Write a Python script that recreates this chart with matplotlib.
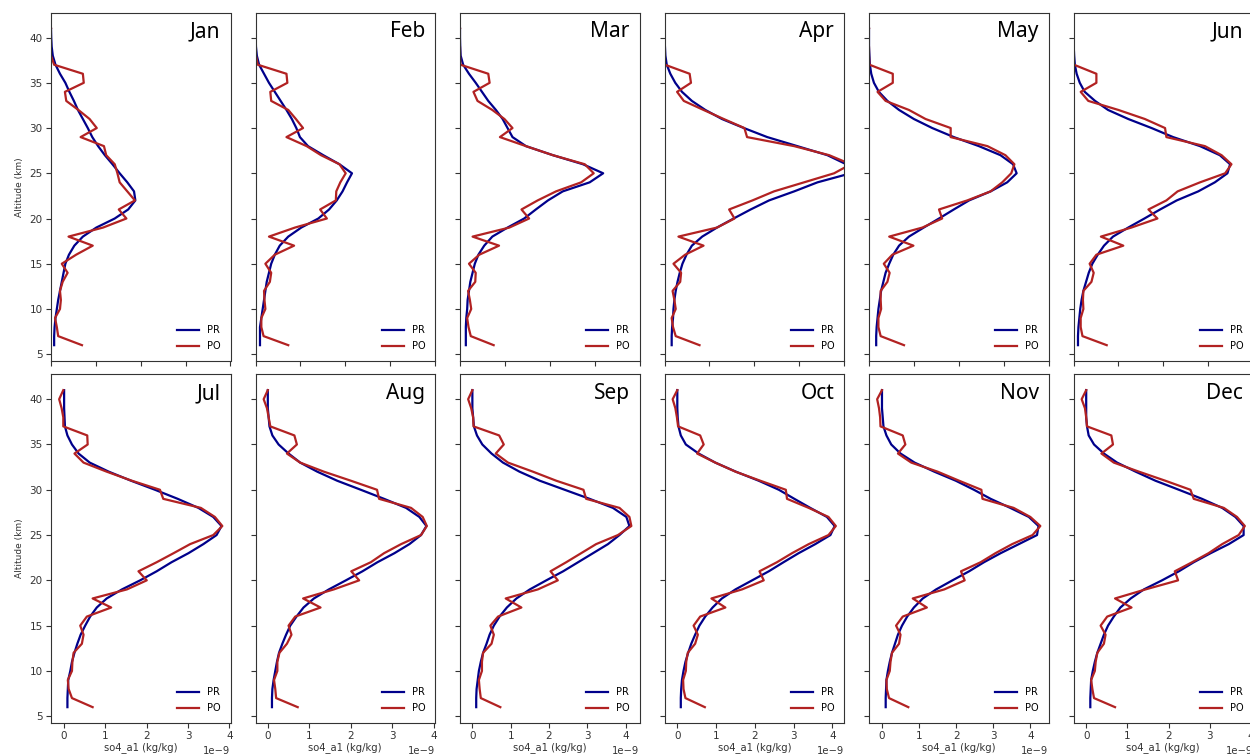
import numpy as np
import matplotlib
matplotlib.use("Agg")
import matplotlib.pyplot as plt

months = ["Jan", "Feb", "Mar", "Apr", "May", "Jun",
          "Jul", "Aug", "Sep", "Oct", "Nov", "Dec"]

altitude_km = [6, 7, 8, 9, 10, 11, 12, 13, 14, 15, 16, 17, 18, 19, 20, 21, 22, 23,
               24, 25, 26, 27, 28, 29, 30, 31, 32, 33, 34, 35, 36, 37, 38, 39, 40, 41]

# values in units of 1e-9 kg/kg
pr_jan = [0.07,0.07,0.08,0.10,0.13,0.16,0.20,0.24,0.28,0.32, 0.40,0.52,0.71,1.01,1.42,1.72,1.88,1.85,1.70,1.53,
          1.37,1.20,1.05,0.92,0.82,0.71,0.60,0.51,0.41,0.32, 0.20,0.10,0.04,0.015,0.005,0.0]
po_jan = [0.69,0.16,0.13,0.09,0.20,0.22,0.20,0.26,0.37,0.24, 0.56,0.93,0.39,1.16,1.68,1.51,1.87,1.70,1.53,1.48,
          1.42,1.23,1.18,0.66,1.02,0.86,0.61,0.34,0.31,0.73, 0.71,0.07,0.0,-0.05,-0.1,0.0]

pr_feb = [0.10,0.10,0.10,0.13,0.16,0.19,0.22,0.25,0.30,0.35, 0.43,0.54,0.73,1.02,1.40,1.64,1.81,1.94,2.04,2.15,
          1.87,1.51,1.17,0.99,0.91,0.81,0.69,0.56,0.43,0.30, 0.19,0.08,0.03,0.01,0.005,0.0]
po_feb = [0.73,0.18,0.13,0.13,0.22,0.20,0.19,0.32,0.35,0.22, 0.43,0.86,0.30,0.88,1.59,1.44,1.79,1.80,1.89,2.01,
          1.87,1.46,1.14,0.69,1.06,0.90,0.73,0.35,0.33,0.71, 0.69,0.05,0.01,-0.02,-0.1,0.0]

pr_mar = [0.13,0.13,0.13,0.14,0.16,0.17,0.20,0.23,0.28,0.33, 0.41,0.54,0.72,1.06,1.43,1.69,1.96,2.29,2.89,3.19,
          2.74,2.07,1.47,1.17,1.06,0.95,0.80,0.63,0.49,0.35, 0.20,0.07,0.015,0.005,0.0,0.0]
po_mar = [0.75,0.24,0.19,0.16,0.25,0.22,0.18,0.34,0.35,0.20, 0.43,0.87,0.28,1.10,1.54,1.37,1.73,2.14,2.70,2.98,
          2.78,2.07,1.47,0.89,1.17,0.99,0.72,0.39,0.30,0.66, 0.63,0.01,0.0,0.0,-0.1,0.0]

pr_apr = [0.16,0.16,0.17,0.19,0.20,0.22,0.25,0.29,0.34,0.40, 0.49,0.61,0.84,1.17,1.54,1.92,2.33,2.89,3.41,4.15,
          4.05,3.63,2.96,2.29,1.77,1.28,0.91,0.61,0.39,0.24, 0.13,0.05,0.02,0.01,0.0,0.0]
po_apr = [0.78,0.25,0.19,0.16,0.25,0.22,0.18,0.35,0.37,0.20, 0.46,0.87,0.31,1.17,1.56,1.44,1.96,2.44,3.11,3.78,
          4.15,3.67,2.89,1.84,1.78,1.32,0.87,0.43,0.28,0.59, 0.56,0.01,0.0,0.0,-0.1,0.0]

pr_may = [0.16,0.16,0.17,0.19,0.21,0.24,0.27,0.32,0.37,0.45, 0.54,0.67,0.89,1.22,1.56,1.89,2.23,2.71,3.08,3.29,
          3.21,2.93,2.45,1.89,1.41,1.00,0.67,0.41,0.22,0.11, 0.05,0.02,0.01,0.0,0.0,0.0]
po_may = [0.78,0.26,0.21,0.21,0.27,0.26,0.26,0.41,0.46,0.33, 0.52,0.99,0.45,1.19,1.63,1.56,2.19,2.71,2.97,3.17,
          3.24,3.04,2.64,1.82,1.82,1.26,0.89,0.37,0.19,0.53, 0.53,0.01,0.0,0.0,-0.1,0.0]

pr_jun = [0.10,0.10,0.11,0.13,0.15,0.18,0.22,0.28,0.34,0.42, 0.54,0.68,0.88,1.22,1.58,1.93,2.30,2.78,3.15,3.43,
          3.49,3.26,2.82,2.22,1.74,1.22,0.77,0.48,0.25,0.14, 0.07,0.03,0.015,0.005,0.0,0.0]
po_jun = [0.74,0.20,0.16,0.16,0.22,0.21,0.22,0.40,0.45,0.36, 0.51,1.11,0.61,1.29,1.87,1.67,2.07,2.32,2.82,3.38,
          3.52,3.30,2.93,2.07,2.04,1.59,1.00,0.33,0.16,0.51, 0.51,0.01,0.0,0.0,-0.1,0.0]

pr_jul = [0.08,0.08,0.09,0.10,0.15,0.19,0.25,0.32,0.40,0.51, 0.63,0.79,1.03,1.40,1.84,2.24,2.60,3.01,3.37,3.69,
          3.81,3.61,3.25,2.75,2.20,1.62,1.08,0.62,0.35,0.19, 0.08,0.02,0.01,0.0,0.0,0.0]
po_jul = [0.69,0.19,0.11,0.09,0.19,0.20,0.23,0.43,0.47,0.39, 0.55,1.14,0.69,1.52,2.00,1.80,2.24,2.65,3.05,3.61,
          3.83,3.65,3.31,2.40,2.32,1.64,1.03,0.47,0.25,0.57, 0.56,-0.02,-0.02,-0.06,-0.12,-0.02]

pr_aug = [0.10,0.10,0.11,0.14,0.18,0.22,0.27,0.35,0.44,0.54, 0.69,0.86,1.11,1.47,1.88,2.28,2.64,3.05,3.41,3.69,
          3.82,3.65,3.33,2.80,2.24,1.67,1.19,0.78,0.50,0.26, 0.11,0.04,0.02,0.0,0.0,0.0]
po_aug = [0.72,0.20,0.18,0.15,0.23,0.23,0.28,0.46,0.57,0.50, 0.66,1.27,0.85,1.59,2.20,2.01,2.48,2.80,3.21,3.69,
          3.83,3.73,3.45,2.68,2.63,2.00,1.35,0.78,0.46,0.70, 0.64,0.06,0.02,-0.02,-0.10,0.0]

pr_sep = [0.10,0.10,0.11,0.14,0.17,0.22,0.28,0.37,0.45,0.56, 0.71,0.90,1.15,1.50,1.93,2.37,2.76,3.15,3.54,3.84,
          4.10,4.02,3.67,3.06,2.41,1.76,1.23,0.80,0.50,0.26, 0.12,0.04,0.02,0.0,0.0,0.0]
po_sep = [0.73,0.22,0.19,0.17,0.25,0.25,0.28,0.50,0.56,0.47, 0.67,1.28,0.87,1.71,2.23,2.04,2.45,2.84,3.23,3.80,
          4.15,4.10,3.84,2.97,2.90,2.19,1.58,0.93,0.61,0.82, 0.70,0.03,0.02,-0.03,-0.11,0.0]

pr_oct = [0.09,0.09,0.10,0.12,0.16,0.21,0.28,0.36,0.46,0.57, 0.72,0.91,1.15,1.50,1.93,2.36,2.74,3.13,3.56,3.95,
          4.06,3.86,3.43,3.02,2.62,2.10,1.51,0.98,0.55,0.22, 0.09,0.03,0.01,0.0,0.0,0.0]
po_oct = [0.71,0.21,0.16,0.15,0.22,0.23,0.27,0.46,0.53,0.42, 0.59,1.24,0.88,1.67,2.23,2.12,2.57,2.96,3.39,3.90,
          4.09,3.90,3.39,2.83,2.80,2.14,1.50,0.98,0.51,0.68, 0.59,0.02,-0.01,-0.05,-0.12,0.0]

pr_nov = [0.10,0.10,0.11,0.12,0.16,0.21,0.27,0.35,0.43,0.54, 0.68,0.86,1.10,1.46,1.90,2.35,2.75,3.20,3.69,4.18,
          4.22,3.96,3.46,2.93,2.48,1.99,1.41,0.88,0.50,0.25, 0.12,0.04,0.02,0.0,0.0,0.0]
po_nov = [0.71,0.19,0.13,0.12,0.21,0.23,0.27,0.46,0.50,0.38, 0.56,1.21,0.83,1.68,2.23,2.13,2.66,3.06,3.51,4.06,
          4.27,4.00,3.55,2.71,2.68,2.08,1.50,0.79,0.43,0.63, 0.56,-0.04,-0.05,-0.08,-0.13,0.0]

pr_dec = [0.10,0.10,0.11,0.12,0.16,0.21,0.27,0.35,0.43,0.53, 0.67,0.83,1.08,1.40,1.84,2.25,2.61,3.02,3.46,3.82,
          3.82,3.62,3.30,2.81,2.25,1.68,1.20,0.75,0.43,0.19, 0.06,0.02,0.0,0.0,0.0,0.0]
po_dec = [0.70,0.19,0.15,0.12,0.21,0.23,0.27,0.43,0.47,0.35, 0.51,1.10,0.70,1.44,2.23,2.15,2.57,2.97,3.30,3.70,
          3.85,3.66,3.34,2.61,2.53,1.92,1.28,0.67,0.37,0.65, 0.61,0.02,0.0,-0.03,-0.11,0.0]

pr_all = [pr_jan, pr_feb, pr_mar, pr_apr, pr_may, pr_jun,
          pr_jul, pr_aug, pr_sep, pr_oct, pr_nov, pr_dec]
po_all = [po_jan, po_feb, po_mar, po_apr, po_may, po_jun,
          po_jul, po_aug, po_sep, po_oct, po_nov, po_dec]

W, H = 1250, 755
fig = plt.figure(figsize=(W / 100, H / 100), dpi=100)

col_left = 51.0
col_step = 204.5
ax_w = 179.5
rows = [(12.7, 361.0), (374.3, 723.0)]

pr_color = "#00008B"
po_color = "#B22222"
tick_fs = 7.5

for i, m in enumerate(months):
    r, c = divmod(i, 6)
    top, bot = rows[r]
    x0 = col_left + c * col_step
    ax = fig.add_axes([x0 / W, 1 - bot / H, ax_w / W, (bot - top) / H])
    alt = np.array(altitude_km)
    ax.plot(np.array(pr_all[i]) * 1e-9, alt, color=pr_color, lw=1.6, label="PR")
    ax.plot(np.array(po_all[i]) * 1e-9, alt, color=po_color, lw=1.6, label="PO")
    ax.set_ylim(4.25, 42.75)
    ax.set_yticks([5, 10, 15, 20, 25, 30, 35, 40])
    ax.tick_params(labelsize=tick_fs, length=3.5, width=0.8, colors="#333333", pad=2.5)
    for s in ax.spines.values():
        s.set_linewidth(0.8)
        s.set_color("#333333")
    if r == 0:
        ax.set_xlim(0, 4e-9)
        ax.set_xticks(np.array([0, 1, 2, 3, 4]) * 1e-9)
        ax.tick_params(labelbottom=False)
        ax.xaxis.offsetText.set_visible(False)
    else:
        ax.set_xticks(np.array([0, 1, 2, 3, 4]) * 1e-9)
        ax.set_xlabel("so4_a1 (kg/kg)", fontsize=7.2, labelpad=0.5, color="#333333")
        ax.xaxis.offsetText.set_fontsize(7.2)
        ax.xaxis.offsetText.set_color("#333333")
    if c == 0:
        ax.set_ylabel("Altitude (km)", fontsize=6.5, color="#333333")
    else:
        ax.tick_params(labelleft=False)
    ax.text(0.945, 0.975, m, transform=ax.transAxes, ha="right", va="top",
            fontsize=15, family=["Noto Sans", "DejaVu Sans"], color="black")
    ax.legend(loc="lower right", frameon=False, fontsize=7, handlelength=2.3,
              borderaxespad=0.6, labelspacing=0.6)

fig.savefig("out.png", dpi=100)
